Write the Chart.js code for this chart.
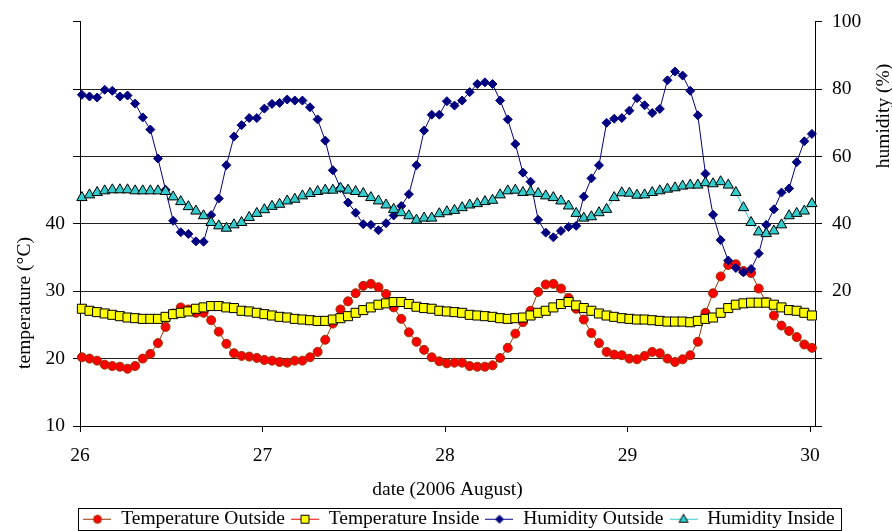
<!DOCTYPE html>
<html>
<head>
<meta charset="utf-8">
<title>Temperature and humidity, 26–30 August 2006</title>
<script src="https://cdn.jsdelivr.net/npm/chart.js@4.4.1/dist/chart.umd.min.js"></script>
<style>
  html, body { margin: 0; padding: 0; background: #ffffff; }
  #wrap { width: 892px; height: 531px; }
</style>
</head>
<body>
<div id="wrap"><canvas id="chart" width="892" height="531"></canvas></div>
<script>
// Hourly logger readings, starting shortly after midnight on 26 August.
const firstReadingDay = 26 + 0.25 / 24;
const readingStep = 1 / 24;

const tempOutside = [
  20.2, 20.0, 19.7, 19.1, 18.9, 18.8, 18.5, 18.9, 20.0, 20.7, 22.3, 24.7, 26.7, 27.6, 27.3, 26.8, 26.8, 25.7, 24.0, 22.2, 20.8, 20.4, 20.3, 20.1, 19.8, 19.7,
  19.5, 19.4, 19.7, 19.7, 20.2, 21.0, 22.8, 25.2, 27.3, 28.5, 29.7, 30.8, 31.1, 30.6, 29.6, 27.6, 25.9, 23.9, 22.5, 21.3, 20.2, 19.6, 19.3, 19.4,
  19.4, 18.9, 18.8, 18.8, 19.0, 20.1, 21.6, 23.7, 25.4, 27.1, 29.9, 31.0, 31.1, 30.4, 29.0, 27.4, 25.8, 23.8, 22.3, 21.0, 20.6, 20.5, 20.0, 19.9,
  20.4, 21.0, 20.8, 20.0, 19.5, 19.9, 20.5, 22.5, 26.8, 29.7, 32.2, 33.9, 34.0, 33.0, 32.7, 30.4, 28.4, 26.4, 24.9, 24.1, 23.2, 22.1, 21.6
];
const tempInside = [
  27.4, 27.1, 26.9, 26.7, 26.5, 26.3, 26.1, 26.0, 25.9, 25.9, 25.9, 26.2, 26.6, 26.8, 27.0, 27.4, 27.6, 27.8, 27.8, 27.6, 27.5, 27.1, 27.0, 26.8, 26.6, 26.4,
  26.2, 26.1, 25.9, 25.8, 25.7, 25.6, 25.6, 25.8, 26.0, 26.3, 26.8, 27.2, 27.6, 28.0, 28.2, 28.4, 28.4, 28.1, 27.7, 27.5, 27.4, 27.1, 27.0, 26.9,
  26.8, 26.5, 26.4, 26.3, 26.2, 26.0, 25.9, 26.0, 26.1, 26.4, 26.8, 27.1, 27.6, 28.1, 28.4, 27.9, 27.5, 27.1, 26.7, 26.4, 26.2, 26.0, 25.9, 25.8,
  25.8, 25.7, 25.6, 25.5, 25.5, 25.5, 25.4, 25.6, 25.9, 26.1, 26.8, 27.5, 28.0, 28.2, 28.3, 28.3, 28.3, 28.0, 27.6, 27.2, 27.1, 26.8, 26.4
];
const humidityOutside = [
  78.3, 77.8, 77.5, 79.8, 79.5, 77.8, 78.1, 75.7, 71.6, 68.0, 59.4, 50.1, 40.9, 37.5, 37.0, 34.8, 34.7, 42.6, 47.5, 57.4, 65.9, 69.3, 71.4, 71.4, 74.2, 75.6,
  75.9, 76.9, 76.6, 76.6, 74.6, 71.0, 64.7, 55.9, 50.6, 46.3, 43.3, 39.9, 39.7, 38.1, 40.2, 42.5, 45.3, 48.8, 57.4, 67.7, 72.4, 72.4, 76.4, 75.1,
  76.6, 79.1, 81.5, 82.0, 81.5, 76.6, 71.0, 63.7, 55.2, 52.5, 41.2, 37.4, 36.0, 37.9, 39.1, 39.4, 48.1, 53.5, 57.4, 70.0, 71.2, 71.4, 73.6, 77.3,
  75.2, 72.9, 74.1, 82.6, 85.2, 84.0, 79.5, 72.2, 54.9, 42.7, 35.2, 29.1, 26.9, 25.6, 26.6, 31.2, 39.7, 44.3, 49.3, 50.5, 58.3, 64.5, 66.7
];
const humidityInside = [
  47.8, 48.6, 49.3, 49.8, 50.1, 50.1, 50.1, 49.8, 49.8, 49.8, 49.8, 49.6, 48.0, 46.6, 45.1, 43.8, 42.4, 40.4, 39.4, 38.7, 39.7, 40.4, 41.9, 43.1, 44.2, 45.2,
  45.8, 46.8, 47.3, 48.3, 49.0, 49.6, 50.0, 50.0, 50.6, 50.0, 49.6, 49.0, 47.8, 46.8, 45.6, 44.3, 43.3, 42.4, 41.1, 41.7, 41.7, 43.0, 43.6, 44.0,
  44.8, 45.6, 46.0, 46.6, 47.0, 48.6, 49.8, 50.0, 49.3, 49.5, 49.0, 48.3, 47.8, 46.8, 45.3, 43.1, 41.7, 42.1, 43.3, 44.3, 47.8, 49.2, 49.1, 48.5,
  48.6, 49.3, 49.8, 50.3, 50.7, 51.2, 51.5, 51.5, 52.2, 51.9, 52.5, 51.5, 49.3, 44.8, 40.4, 37.6, 37.1, 37.9, 39.7, 42.4, 43.1, 43.8, 46.0
];

const dayTicks = [26, 27, 28, 29, 30];
const temperatureTickLabels = [10, 20, 30, 40];
const humidityTickLabels = [20, 40, 60, 80, 100];

const seriesNames = ['Temperature Outside', 'Temperature Inside', 'Humidity Outside', 'Humidity Inside'];

const SERIF = "'Liberation Serif', 'Times New Roman', serif";
const FONT_SIZE = 19.5;

function toPoints(values) {
  return values.map((v, i) => ({ x: firstReadingDay + i * readingStep, y: v }));
}

// Marker styles shared by the plot and the legend symbols
const styles = [
  { line: '#993300', shape: 'circle',   fill: '#FF0000', stroke: '#993300', r: 4.5 },
  { line: '#FF0000', shape: 'rect',     fill: '#FFFF00', stroke: '#000000', r: 6.4 },
  { line: '#000080', shape: 'rectRot',  fill: '#000080', stroke: '#000080', r: 4.5 },
  { line: '#33CCCC', shape: 'triangle', fill: '#33CCCC', stroke: '#000000', r: 6.0 }
];

// Small "line – marker – line" glyph used in the legend
function legendGlyph(s) {
  const c = document.createElement('canvas');
  c.width = 28; c.height = 14;
  const g = c.getContext('2d');
  g.strokeStyle = s.line; g.lineWidth = 1;
  g.beginPath(); g.moveTo(0, 7.5); g.lineTo(28, 7.5); g.stroke();
  g.fillStyle = s.fill; g.strokeStyle = s.stroke;
  const cx = 14, cy = 7.5;
  g.beginPath();
  if (s.shape === 'circle') {
    g.arc(cx, cy, 4, 0, Math.PI * 2);
  } else if (s.shape === 'rect') {
    g.rect(cx - 4, cy - 4, 8, 8);
  } else if (s.shape === 'rectRot') {
    g.moveTo(cx, cy - 4); g.lineTo(cx + 4, cy); g.lineTo(cx, cy + 4); g.lineTo(cx - 4, cy); g.closePath();
  } else {
    g.moveTo(cx, cy - 5); g.lineTo(cx + 4.5, cy + 3); g.lineTo(cx - 4.5, cy + 3); g.closePath();
  }
  g.fill(); g.stroke();
  return c;
}

const seriesValues = [tempOutside, tempInside, humidityOutside, humidityInside];
const axisOf = ['yT', 'yT', 'yH', 'yH'];

const datasets = seriesValues.map((vals, i) => ({
  label: seriesNames[i],
  data: toPoints(vals),
  yAxisID: axisOf[i],
  borderColor: styles[i].line,
  borderWidth: 1,
  backgroundColor: styles[i].fill,
  pointStyle: styles[i].shape,
  pointRadius: styles[i].r,
  pointBackgroundColor: styles[i].fill,
  pointBorderColor: styles[i].stroke,
  pointBorderWidth: 1,
  tension: 0,
  clip: false,
  order: 4 - i
}));

const LEGEND_SHIFT_X = 13;
const LEGEND_SHIFT_Y = 7.5;

const legendPlacement = {
  id: 'legendPlacement',
  afterLayout(chart) {
    const lg = chart.legend;
    lg.left += LEGEND_SHIFT_X; lg.right += LEGEND_SHIFT_X;
    lg.top += LEGEND_SHIFT_Y; lg.bottom += LEGEND_SHIFT_Y;
  },
  afterDraw(chart) {
    const hb = chart.legend.legendHitBoxes;
    if (!hb || !hb.length) return;
    const last = hb[hb.length - 1];
    const x0 = Math.round(hb[0].left - 5) + 0.5;
    const x1 = Math.round(last.left + last.width + 6) + 0.5;
    const y0 = 508.5;
    const y1 = 530.5;
    const ctx = chart.ctx;
    ctx.save();
    ctx.strokeStyle = '#000'; ctx.lineWidth = 1;
    ctx.strokeRect(x0, y0, x1 - x0, y1 - y0);
    ctx.restore();
  }
};

// Vertical axis titles, both reading bottom-to-top
const axisTitles = {
  id: 'axisTitles',
  afterDraw(chart) {
    const ctx = chart.ctx;
    const put = (text, x, y) => {
      ctx.save();
      ctx.fillStyle = '#000';
      ctx.font = FONT_SIZE + 'px ' + SERIF;
      ctx.textAlign = 'center';
      ctx.textBaseline = 'middle';
      ctx.translate(x, y); ctx.rotate(-Math.PI / 2);
      ctx.fillText(text, 0, 0);
      ctx.restore();
    };
    put('temperature (°C)', 25, 303);
    put('humidity (%)', 884, 116);
  }
};

Chart.defaults.font.family = SERIF;
Chart.defaults.font.size = FONT_SIZE;
Chart.defaults.color = '#000';

new Chart(document.getElementById('chart'), {
  type: 'line',
  data: { datasets },
  options: {
    responsive: false,
    devicePixelRatio: 1,
    animation: false,
    events: [],
    layout: { padding: { top: 20, left: 0, right: 0, bottom: 0 } },
    plugins: {
      tooltip: { enabled: false },
      legend: {
        position: 'bottom',
        labels: {
          usePointStyle: true,
          pointStyleWidth: 28,
          padding: 6,
          color: '#000',
          font: { family: SERIF, size: FONT_SIZE },
          generateLabels: (chart) => chart.data.datasets.map((ds, i) => ({
            text: ds.label,
            pointStyle: legendGlyph(styles[i]),
            fillStyle: 'transparent',
            strokeStyle: 'transparent',
            lineWidth: 0,
            hidden: false,
            datasetIndex: i
          }))
        }
      }
    },
    scales: {
      x: {
        type: 'linear',
        position: 'bottom',
        min: 26,
        max: 30 + 5 / 182.5,
        afterBuildTicks: (s) => { s.ticks = dayTicks.map(v => ({ value: v })); },
        afterFit: (s) => { s.height = 531 - 426 - s.chart.legend.height; },
        border: { display: true, color: '#000', width: 1 },
        grid: { display: true, drawOnChartArea: false, drawTicks: true, tickLength: 6, color: '#000', tickColor: '#000' },
        ticks: { autoSkip: false, maxRotation: 0, padding: 12, color: '#000', font: { size: FONT_SIZE }, callback: (v) => String(v) },
        title: { display: true, text: 'date (2006 August)', color: '#000', font: { size: FONT_SIZE, lineHeight: 1 }, padding: { top: 0, bottom: -4.5 } }
      },
      yT: {
        type: 'linear',
        position: 'left',
        min: 10,
        max: 70,
        afterBuildTicks: (s) => { s.ticks = [10, 20, 30, 40, 50, 60, 70].map(v => ({ value: v })); },
        afterFit: (s) => { s.width = 80; },
        border: { display: true, color: '#000', width: 1 },
        grid: {
          drawTicks: true,
          tickLength: 7,
          tickColor: '#000',
          lineWidth: 1,
          color: (ctx) => (ctx.tick && (ctx.tick.value === 10 || ctx.tick.value === 70)) ? 'rgba(0,0,0,0)' : '#222'
        },
        ticks: {
          padding: 8,
          color: '#000',
          font: { size: FONT_SIZE },
          callback: (v) => temperatureTickLabels.includes(v) ? String(v) : ''
        }
      },
      yH: {
        type: 'linear',
        position: 'right',
        min: -20,
        max: 100,
        afterBuildTicks: (s) => { s.ticks = [-20, 0, 20, 40, 60, 80, 100].map(v => ({ value: v })); },
        afterFit: (s) => { s.width = 77; },
        border: { display: true, color: '#000', width: 1 },
        grid: { drawOnChartArea: false, drawTicks: true, tickLength: 7, color: '#000', tickColor: '#000' },
        ticks: {
          padding: 10,
          color: '#000',
          font: { size: FONT_SIZE },
          callback: (v) => humidityTickLabels.includes(v) ? String(v) : ''
        }
      }
    }
  },
  plugins: [legendPlacement, axisTitles]
});
</script>
</body>
</html>
